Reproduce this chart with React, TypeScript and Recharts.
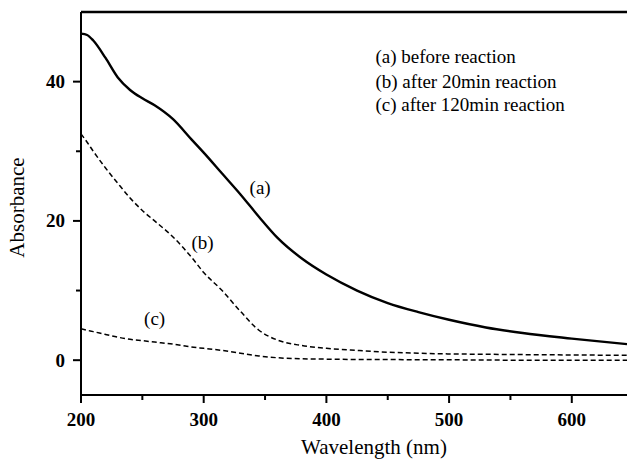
import React from "react";
import { LineChart, Line, XAxis, YAxis, ReferenceLine, ReferenceDot } from "recharts";

const wavelengths = [200, 205, 210, 220, 230, 240, 250, 260, 275, 290, 300, 315, 330, 345, 360, 380, 400, 425, 450, 475, 500, 530, 560, 600, 645];
const absA = [46.9, 46.7, 45.9, 43.4, 40.6, 38.8, 37.6, 36.6, 34.6, 31.7, 29.8, 26.8, 23.8, 20.6, 17.6, 14.6, 12.3, 10.0, 8.2, 6.9, 5.8, 4.7, 3.9, 3.1, 2.3];
const absB = [32.5, 31.3, 30.0, 27.6, 25.4, 23.3, 21.5, 20.0, 17.7, 14.8, 12.6, 10.0, 7.0, 4.3, 2.9, 2.1, 1.7, 1.4, 1.15, 1.0, 0.9, 0.85, 0.8, 0.75, 0.7];
const absC = [4.5, 4.3, 4.1, 3.7, 3.3, 3.0, 2.8, 2.6, 2.3, 1.9, 1.7, 1.4, 1.0, 0.6, 0.35, 0.2, 0.15, 0.1, 0.1, 0.05, 0.05, 0.02, 0.0, 0.0, 0.0];

const xTicks = [200, 250, 300, 350, 400, 450, 500, 550, 600];
const yTicks = [0, 10, 20, 30, 40];

const legendLines = ["(a) before reaction", "(b) after 20min reaction", "(c) after 120min reaction"];
const legendY = [43.7, 40.1, 36.8];
const legendX = 440;

const curveLabels = ["(a)", "(b)", "(c)"];
const curveLabelX = [346, 299, 260];
const curveLabelY = [24.9, 16.9, 6.0];

const data = wavelengths.map((x, i) => ({ x, a: absA[i], b: absB[i], c: absC[i] }));

const serif = "'Liberation Serif', 'Times New Roman', serif";

const XTick = (props: any) => {
  const { x, y, payload } = props;
  const major = payload.value % 100 === 0;
  return (
    <g>
      <line x1={x} y1={y} x2={x} y2={y + (major ? 8 : 5)} stroke="#000" strokeWidth={2} />
      {major && (
        <text x={x} y={y + 24} textAnchor="middle" dominantBaseline="central" fontFamily={serif} fontWeight="bold" fontSize={19} fill="#000">
          {payload.value}
        </text>
      )}
    </g>
  );
};

const YTick = (props: any) => {
  const { x, y, payload } = props;
  const major = payload.value % 20 === 0;
  return (
    <g>
      <line x1={x} y1={y} x2={x - (major ? 8 : 5)} y2={y} stroke="#000" strokeWidth={2} />
      {major && (
        <text x={x - 16} y={y} textAnchor="end" dominantBaseline="central" fontFamily={serif} fontWeight="bold" fontSize={19} fill="#000">
          {payload.value}
        </text>
      )}
    </g>
  );
};

const XTitle = (props: any) => {
  const vb = props.viewBox;
  return (
    <text x={vb.x + vb.width / 2 + 20} y={vb.y + 52} textAnchor="middle" dominantBaseline="central" fontFamily={serif} fontSize={21} fill="#000">
      Wavelength (nm)
    </text>
  );
};

const YTitle = (props: any) => {
  const vb = props.viewBox;
  const cx = vb.x + 17;
  const cy = vb.y + vb.height / 2 + 4;
  return (
    <text x={cx} y={cy} transform={`rotate(-90 ${cx} ${cy})`} textAnchor="middle" dominantBaseline="central" fontFamily={serif} fontSize={21} fill="#000">
      Absorbance
    </text>
  );
};

export default function App() {
  return (
    <div style={{ position: "absolute", left: 0, top: 0, width: 627, height: 459, background: "#fff", overflow: "hidden" }}>
      <LineChart width={627} height={459} data={data} margin={{ top: 12, right: 0, bottom: 0, left: 0 }}>
        <XAxis
          dataKey="x"
          type="number"
          domain={[200, 645]}
          ticks={xTicks}
          interval={0}
          allowDataOverflow
          tickSize={0}
          tickMargin={0}
          tickLine={false}
          tick={<XTick />}
          axisLine={{ stroke: "#000", strokeWidth: 2 }}
          height={64}
          label={<XTitle />}
        />
        <YAxis
          type="number"
          domain={[-5, 50]}
          ticks={yTicks}
          interval={0}
          allowDataOverflow
          tickSize={0}
          tickMargin={0}
          tickLine={false}
          tick={<YTick />}
          axisLine={{ stroke: "#000", strokeWidth: 2 }}
          width={81}
          label={<YTitle />}
        />
        <ReferenceLine y={50} stroke="#000" strokeWidth={2.5} />
        <Line type="monotone" dataKey="a" stroke="#000" strokeWidth={2.4} dot={false} isAnimationActive={false} />
        <Line type="monotone" dataKey="b" stroke="#000" strokeWidth={1.5} strokeDasharray="5 3" dot={false} isAnimationActive={false} />
        <Line type="monotone" dataKey="c" stroke="#000" strokeWidth={1.5} strokeDasharray="5 3" dot={false} isAnimationActive={false} />
        {curveLabels.map((t, i) => (
          <ReferenceDot
            key={t}
            x={curveLabelX[i]}
            y={curveLabelY[i]}
            r={0}
            stroke="none"
            label={{ value: t, position: "center", fontFamily: serif, fontSize: 19, fill: "#000" }}
          />
        ))}
        {legendLines.map((t, i) => (
          <ReferenceDot
            key={t}
            x={legendX}
            y={legendY[i]}
            r={0}
            stroke="none"
            label={{ value: t, position: "right", offset: 0, fontFamily: serif, fontSize: 19, fill: "#000" }}
          />
        ))}
      </LineChart>
    </div>
  );
}
